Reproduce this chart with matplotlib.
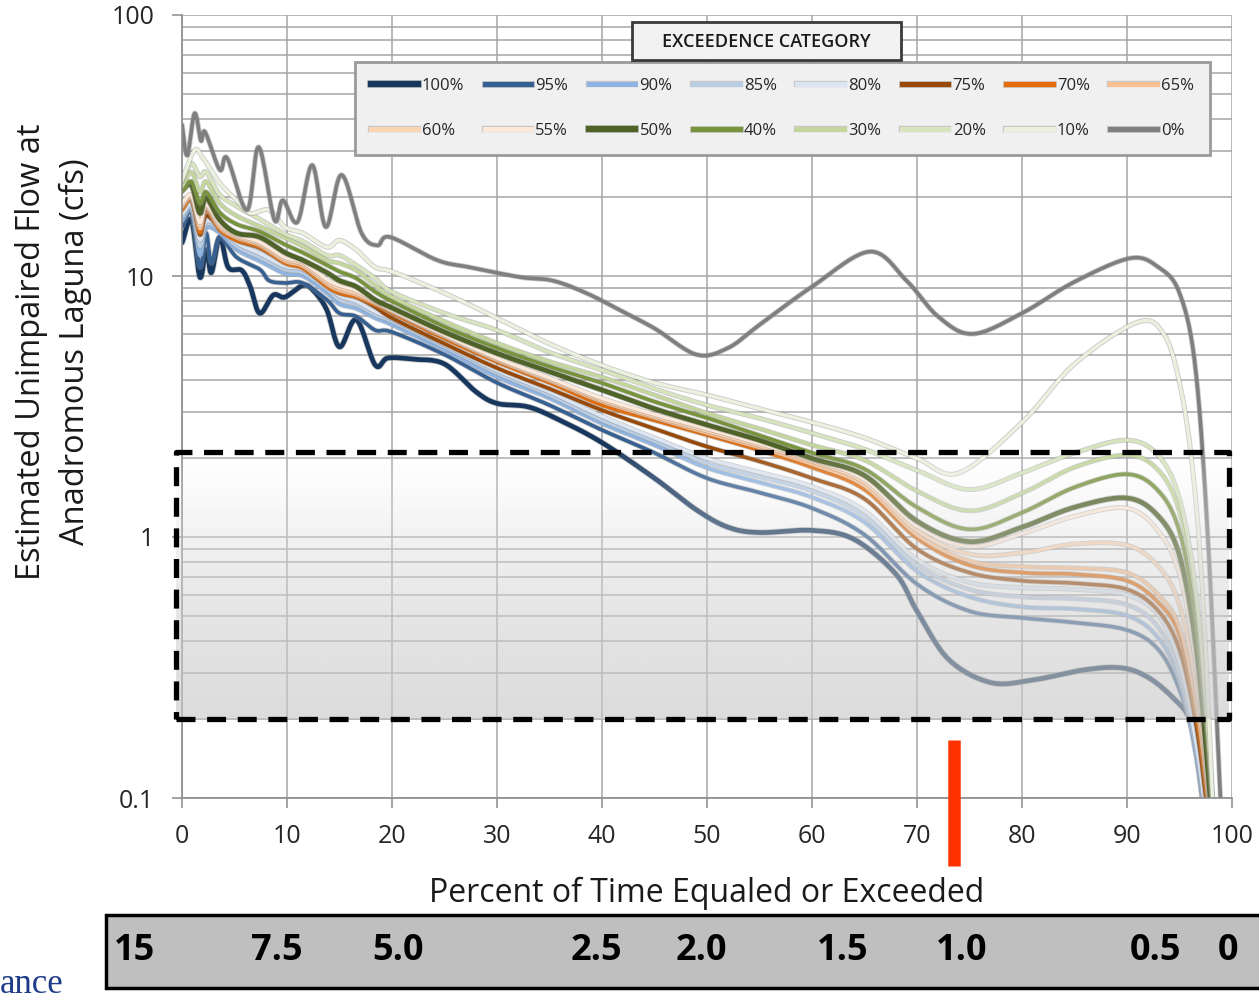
import numpy as np
import matplotlib
matplotlib.use("Agg")
import matplotlib.pyplot as plt
import matplotlib.patheffects as pe
import matplotlib.transforms as mtransforms
from matplotlib.patches import Rectangle
from matplotlib.lines import Line2D
from matplotlib.ticker import LogLocator, NullFormatter

plt.rcParams['font.family'] = ['Open Sans', 'DejaVu Sans']

# exceedance categories (legend order)
labels = ['100%', '95%', '90%', '85%', '80%', '75%', '70%', '65%',
          '60%', '55%', '50%', '40%', '30%', '20%', '10%', '0%']
colors = ['#17375e', '#376092', '#8eb4e3', '#b9cde5', '#dce6f2', '#984807',
          '#e46c0a', '#fac090', '#fcd5b5', '#fde9d9', '#4f6228', '#77933c',
          '#c3d69b', '#d7e4bd', '#ebf1de', '#7f7f7f']
widths = [3.4, 2.6, 2.4, 2.4, 2.4, 2.6, 2.6, 2.4, 2.4, 2.4, 3.4, 2.6,
          2.4, 2.4, 2.4, 2.6]

# shared x values for most categories (percent of time)
x_early = [0, 0.9, 1.7, 2.3, 3.6, 5.2, 7.4, 9.8, 11.5, 13.8, 15, 16.6, 18.4]
x_late = [20, 25, 30, 35, 40, 45, 50, 55, 60, 65, 70, 75, 80, 85, 90, 93,
          95, 96.5, 97.5, 98.5]
x_common = x_early + x_late

x_100 = [0, 0.9, 1.7, 2.3, 2.8, 3.6, 4.4, 5.7, 6.5, 7.4, 8.7, 9.8, 11.5,
         12.5, 13.8, 15.0, 16.6, 18.4, 19.6, 22, 25, 28, 30, 33, 36, 40,
         45, 49, 52, 55, 60, 64, 68, 70, 73, 77, 81, 86, 89.5, 92, 94.3,
         96, 97.3, 98.2]
q_100 = [13.4, 16.4, 9.9, 12.6, 10.3, 14.1, 10.8, 10.5, 9.1, 7.2, 8.45,
         8.3, 9.2, 8.8, 7.4, 5.35, 6.8, 4.56, 4.85, 4.8, 4.6, 3.6, 3.25,
         3.15, 2.8, 2.3, 1.68, 1.27, 1.09, 1.04, 1.06, 0.98, 0.72, 0.52,
         0.34, 0.277, 0.283, 0.31, 0.315, 0.29, 0.244, 0.2, 0.13, 0.06]

x_95 = [0, 0.9, 1.7, 2.3, 2.8, 3.6, 5.2, 7.4, 8.3, 9.8, 11.5, 13.8, 15,
        16.6, 18.4, 20, 25, 30, 35, 40, 45, 50, 55, 60, 65, 70, 75, 80, 85,
        90, 93, 95, 96.5, 97.6]
q_95 = [15.4, 17.4, 10.8, 14.6, 11.2, 14.1, 11.8, 10.6, 9.6, 9.4, 9.4,
        8.1, 7.2, 7.0, 6.2, 6.1, 5.0, 3.9, 3.2, 2.57, 2.1, 1.68, 1.48, 1.29,
        1.02, 0.66, 0.52, 0.49, 0.47, 0.44, 0.37, 0.26, 0.16, 0.07]

q_90 = [16.2, 17.8, 12.0, 15.2, 14.6, 12.6, 11.4, 10.2, 10.0, 8.6, 7.8,
        7.5, 6.9, 6.5, 5.2, 4.1, 3.4, 2.72, 2.25, 1.84, 1.62, 1.42, 1.14,
        0.74, 0.59, 0.54, 0.53, 0.5, 0.41, 0.28, 0.15, 0.075, 0.03]
q_85 = [16.8, 18.2, 13.0, 15.8, 15.0, 13.0, 11.8, 10.6, 10.3, 8.9, 8.1,
        7.8, 7.1, 6.7, 5.35, 4.25, 3.5, 2.8, 2.33, 1.92, 1.7, 1.5, 1.2,
        0.78, 0.63, 0.59, 0.58, 0.55, 0.45, 0.3, 0.16, 0.08, 0.03]
q_80 = [17.2, 18.6, 13.8, 16.2, 15.4, 13.4, 12.2, 10.9, 10.6, 9.2, 8.4,
        8.0, 7.3, 6.85, 5.45, 4.35, 3.6, 2.9, 2.4, 2.0, 1.77, 1.56, 1.26,
        0.82, 0.67, 0.64, 0.63, 0.6, 0.5, 0.33, 0.17, 0.085, 0.03]
q_75 = [18.2, 19.6, 14.4, 17.0, 15.3, 13.7, 12.8, 11.3, 10.8, 9.2, 8.6,
        8.3, 7.6, 6.9, 5.5, 4.44, 3.7, 3.06, 2.6, 2.22, 1.95, 1.68, 1.4,
        0.9, 0.73, 0.68, 0.665, 0.63, 0.52, 0.37, 0.2, 0.1, 0.04]
q_70 = [17.9, 19.5, 14.7, 17.9, 15.0, 13.7, 12.9, 11.2, 10.7, 9.1, 8.6,
        8.3, 7.75, 7.2, 5.75, 4.68, 3.9, 3.2, 2.8, 2.46, 2.15, 1.85, 1.52,
        0.99, 0.78, 0.73, 0.72, 0.68, 0.56, 0.42, 0.22, 0.11, 0.04]
q_65 = [18.4, 19.8, 15.2, 18.2, 15.3, 14.0, 13.1, 11.4, 10.9, 9.3, 8.8,
        8.45, 7.85, 7.3, 5.85, 4.75, 3.97, 3.3, 2.86, 2.5, 2.2, 1.9, 1.57,
        1.02, 0.81, 0.77, 0.76, 0.73, 0.6, 0.45, 0.24, 0.12, 0.045]
q_60 = [18.7, 20.1, 15.6, 18.5, 15.6, 14.2, 13.3, 11.6, 11.1, 9.5, 9.0,
        8.6, 7.95, 7.35, 5.9, 4.8, 4.02, 3.35, 2.9, 2.55, 2.24, 1.95, 1.62,
        1.06, 0.86, 0.87, 0.94, 0.93, 0.77, 0.55, 0.28, 0.13, 0.05]
q_55 = [19.0, 20.4, 16.0, 18.8, 15.9, 14.4, 13.5, 11.8, 11.3, 9.7, 9.2,
        8.8, 8.05, 7.4, 5.95, 4.85, 4.07, 3.4, 2.95, 2.6, 2.28, 1.98, 1.66,
        1.1, 0.92, 1.03, 1.2, 1.29, 1.05, 0.72, 0.34, 0.14, 0.05]
q_50 = [21.3, 22.3, 17.4, 20.0, 16.4, 14.6, 14.1, 12.3, 11.5, 10.3, 9.6,
        9.1, 8.1, 7.55, 6.1, 5.06, 4.3, 3.66, 3.1, 2.69, 2.35, 2.0, 1.72,
        1.15, 0.96, 1.09, 1.3, 1.41, 1.2, 0.85, 0.4, 0.16, 0.05]
q_40 = [21.0, 23.0, 19.0, 21.0, 17.5, 15.8, 14.8, 13.2, 12.3, 11.0, 10.4,
        9.8, 8.7, 8.0, 6.4, 5.3, 4.5, 3.89, 3.3, 2.86, 2.45, 2.1, 1.82,
        1.3, 1.07, 1.24, 1.55, 1.74, 1.5, 1.05, 0.5, 0.2, 0.055]
q_30 = [22.0, 25.0, 21.0, 23.0, 19.0, 17.0, 15.5, 14.0, 13.0, 11.5, 11.2,
        10.5, 9.2, 8.3, 6.7, 5.53, 4.7, 4.1, 3.5, 2.98, 2.6, 2.25, 1.97,
        1.5, 1.26, 1.47, 1.85, 2.06, 1.8, 1.25, 0.6, 0.22, 0.06]
q_20 = [23.0, 27.0, 24.0, 25.0, 20.5, 18.5, 16.5, 14.5, 13.6, 12.0, 12.0,
        11.0, 9.8, 8.7, 7.2, 6.2, 5.1, 4.36, 3.7, 3.2, 2.85, 2.5, 2.17,
        1.8, 1.52, 1.76, 2.1, 2.35, 2.05, 1.4, 0.65, 0.24, 0.06]

x_10 = [0, 1.2, 2.0, 3.6, 5.2, 6.5, 8.3, 9.8, 11.5, 13.8, 15, 16.6, 18.4,
        20, 25, 30, 35, 40, 45, 50, 55, 60, 65, 70, 74, 80, 85, 91, 93.5,
        95, 96.2, 97.2, 98.5]
q_10 = [23.3, 30.3, 28.3, 22.7, 19.5, 17.4, 17.9, 15.4, 14.6, 12.9, 13.7,
        12.6, 10.8, 10.4, 8.6, 6.9, 5.5, 4.55, 3.9, 3.5, 3.1, 2.75, 2.4,
        2.0, 1.76, 2.75, 4.6, 6.65, 6.0, 3.9, 1.9, 0.6, 0.05]

x_0 = [0, 0.5, 1.2, 1.8, 2.2, 3.6, 4.3, 6.2, 7.3, 8.8, 9.6, 11, 12.4,
       13.7, 15.2, 17.1, 18.6, 19.8, 24.3, 27.4, 32.2, 35.3, 38.5, 41.7,
       45, 49, 52, 55, 60, 65.5, 69, 72, 75.3, 80, 85, 90.3, 93, 95, 96.5,
       97.7, 98.9, 99.5]
q_0 = [38, 29, 42, 33, 35.6, 25.5, 28.3, 17.9, 31.2, 16.4, 19.5, 16.1,
       26.6, 15.4, 24.4, 14.6, 13.1, 14.1, 11.5, 10.8, 9.9, 9.6, 8.6, 7.4,
       6.3, 5.0, 5.3, 6.5, 9.1, 12.4, 9.6, 7.0, 6.0, 7.2, 9.5, 11.7, 10.8,
       8.6, 4.5, 1.0, 0.1, 0.04]

series_x = [x_100, x_95, x_common, x_common, x_common, x_common, x_common,
            x_common, x_common, x_common, x_common, x_common, x_common,
            x_common, x_10, x_0]
series_q = [q_100, q_95, q_90, q_85, q_80, q_75, q_70, q_65, q_60, q_55,
            q_50, q_40, q_30, q_20, q_10, q_0]

# band of interest and the marker of the current exceedance
band_low, band_high = 0.2, 2.12
band_x0, band_x1 = -0.6, 99.7
marker_x = 73.5

# flow values printed in the strip under the chart
flow_labels = ['15', '7.5', '5.0', '2.5', '2.0', '1.5', '1.0', '0.5', '0']
flow_pos = [-4.5, 9, 20.6, 39.5, 49.5, 62.9, 74.3, 92.7, 99.6]


def smooth(xs, ys, n=16):
    # Excel-like smoothed line (Catmull-Rom through the points, in log space)
    pts = np.column_stack([np.asarray(xs, float), np.log10(ys)])
    P = np.vstack([2 * pts[0] - pts[1], pts, 2 * pts[-1] - pts[-2]])
    t = np.linspace(0, 1, n, endpoint=False)[:, None]
    out = []
    for i in range(1, len(P) - 2):
        p0, p1, p2, p3 = P[i - 1], P[i], P[i + 1], P[i + 2]
        out.append(0.5 * (2 * p1 + (-p0 + p2) * t
                          + (2 * p0 - 5 * p1 + 4 * p2 - p3) * t ** 2
                          + (-p0 + 3 * p1 - 3 * p2 + p3) * t ** 3))
    out.append(pts[-1:])
    arr = np.vstack(out)
    return arr[:, 0], 10 ** arr[:, 1]


W, H = 1259, 1001
fig = plt.figure(figsize=(W / 100, H / 100), dpi=100)
ax = fig.add_axes([182 / W, 1 - 798 / H, 1050 / W, 783 / H])

ax.set_yscale('log')
ax.set_xlim(0, 100)
ax.set_ylim(0.1, 100)
ax.set_xticks(range(0, 101, 10))
ax.set_yticks([0.1, 1, 10, 100])
ax.set_yticklabels(['0.1', '1', '10', '100'])
ax.yaxis.set_minor_locator(LogLocator(base=10, subs=np.arange(2, 10)))
ax.yaxis.set_minor_formatter(NullFormatter())
ax.grid(True, which='both', color='#a6a6a6', lw=1.1)
ax.set_axisbelow(True)
for s in ['top', 'right']:
    ax.spines[s].set_visible(False)
for s in ['left', 'bottom']:
    ax.spines[s].set_color('#8c8c8c')
    ax.spines[s].set_linewidth(1.2)
ax.tick_params(which='major', length=7, width=1.1, color='#8c8c8c',
               labelsize=18, labelcolor='#262626')
ax.tick_params(axis='x', pad=12)
ax.tick_params(axis='y', pad=13)
ax.tick_params(which='minor', length=0)

for lab, xs, qs, col, lw in zip(labels, series_x, series_q, colors, widths):
    sx, sy = smooth(xs, qs)
    ax.plot(sx, sy, color=col, lw=lw, solid_capstyle='round', zorder=2,
            path_effects=[pe.Stroke(linewidth=lw + 1.2, foreground='#8a8a8a',
                                    alpha=0.45), pe.Normal()])

# shaded band (semi transparent, darker toward the bottom)
grad = np.linspace(0, 1, 200)[:, None]  # 0 bottom -> 1 top
img = np.zeros((200, 2, 4))
g = 0.79 + 0.21 * grad
img[..., 0] = g
img[..., 1] = g
img[..., 2] = g
img[..., 3] = 0.64 - 0.58 * grad
ax.imshow(img, extent=(band_x0, band_x1, band_low, band_high), origin='lower',
          aspect='auto', interpolation='bilinear', zorder=5, clip_on=False)
ax.set_xlim(0, 100)
ax.set_ylim(0.1, 100)
ax.add_patch(Rectangle((band_x0, band_low), band_x1 - band_x0,
                       band_high - band_low, fill=False, ec='black', lw=3.8,
                       ls=(0, (3.6, 2.2)), joinstyle='round', zorder=6,
                       clip_on=False))

# red marker below the axis
blend = mtransforms.blended_transform_factory(ax.transData, ax.transAxes)
ax.plot([marker_x, marker_x], [0.074, -0.087], color='#ff3300', lw=9,
        solid_capstyle='butt', transform=blend, clip_on=False, zorder=7)

ax.set_xlabel('Percent of Time Equaled or Exceeded', fontsize=23,
              color='#1a1a1a', labelpad=20)
ax.set_ylabel('Estimated Unimpaired Flow at\nAnadromous Laguna (cfs)',
              fontsize=23.5, color='#1a1a1a', linespacing=1.4)
ax.yaxis.set_label_coords(-0.086, 0.57)

# legend with separate title box
order = [0, 8, 1, 9, 2, 10, 3, 11, 4, 12, 5, 13, 6, 14, 7, 15]
handles = [Line2D([], [], color=colors[i], lw=widths[i] + 1.2,
                  path_effects=[pe.Stroke(linewidth=widths[i] + 2.2,
                                          foreground='#8a8a8a', alpha=0.4),
                                pe.Normal()]) for i in order]
leg = fig.legend(handles, [labels[i] for i in order], ncol=8,
                 loc='upper left', mode='expand', borderaxespad=0,
                 bbox_to_anchor=(355 / W, 1 - 155 / H, 855 / W, 93 / H),
                 bbox_transform=fig.transFigure, frameon=True, fancybox=False,
                 facecolor='#f0f0f0', edgecolor='#9a9a9a', framealpha=1,
                 fontsize=12, handlelength=2.8, handletextpad=0.25,
                 labelspacing=1.75, borderpad=0.95, columnspacing=0.8)
leg.get_frame().set_linewidth(2)
for t in leg.get_texts():
    t.set_color('#262626')

fig.patches.append(Rectangle((632 / W, 1 - 60 / H), 269 / W, 38 / H,
                             transform=fig.transFigure, fc='#f2f2f2',
                             ec='#3a3a3a', lw=2, zorder=10))
fig.text(766 / W, 1 - 42 / H, 'EXCEEDENCE CATEGORY', ha='center',
         va='center', fontsize=13, fontweight='semibold', color='#1a1a1a',
         zorder=11)

# flow strip at the bottom
fig.patches.append(Rectangle((106 / W, 1 - 988 / H), 1 - 106 / W + 0.01,
                             73 / H, transform=fig.transFigure,
                             fc='#bfbfbf', ec='black', lw=2.5))
strip = mtransforms.blended_transform_factory(ax.transData, fig.transFigure)
for lab, xp in zip(flow_labels, flow_pos):
    fig.text(xp, 1 - 951 / H, lab, transform=strip, ha='center',
             va='center', fontsize=26, fontweight='bold',
             family=['Liberation Sans Narrow', 'Open Sans'], color='black')

fig.text(0.0, 1 - 968 / H, 'ance', ha='left', va='top', fontsize=25,
         family='Liberation Serif', color='#1f3c88')

fig.savefig('out.png', dpi=100)
